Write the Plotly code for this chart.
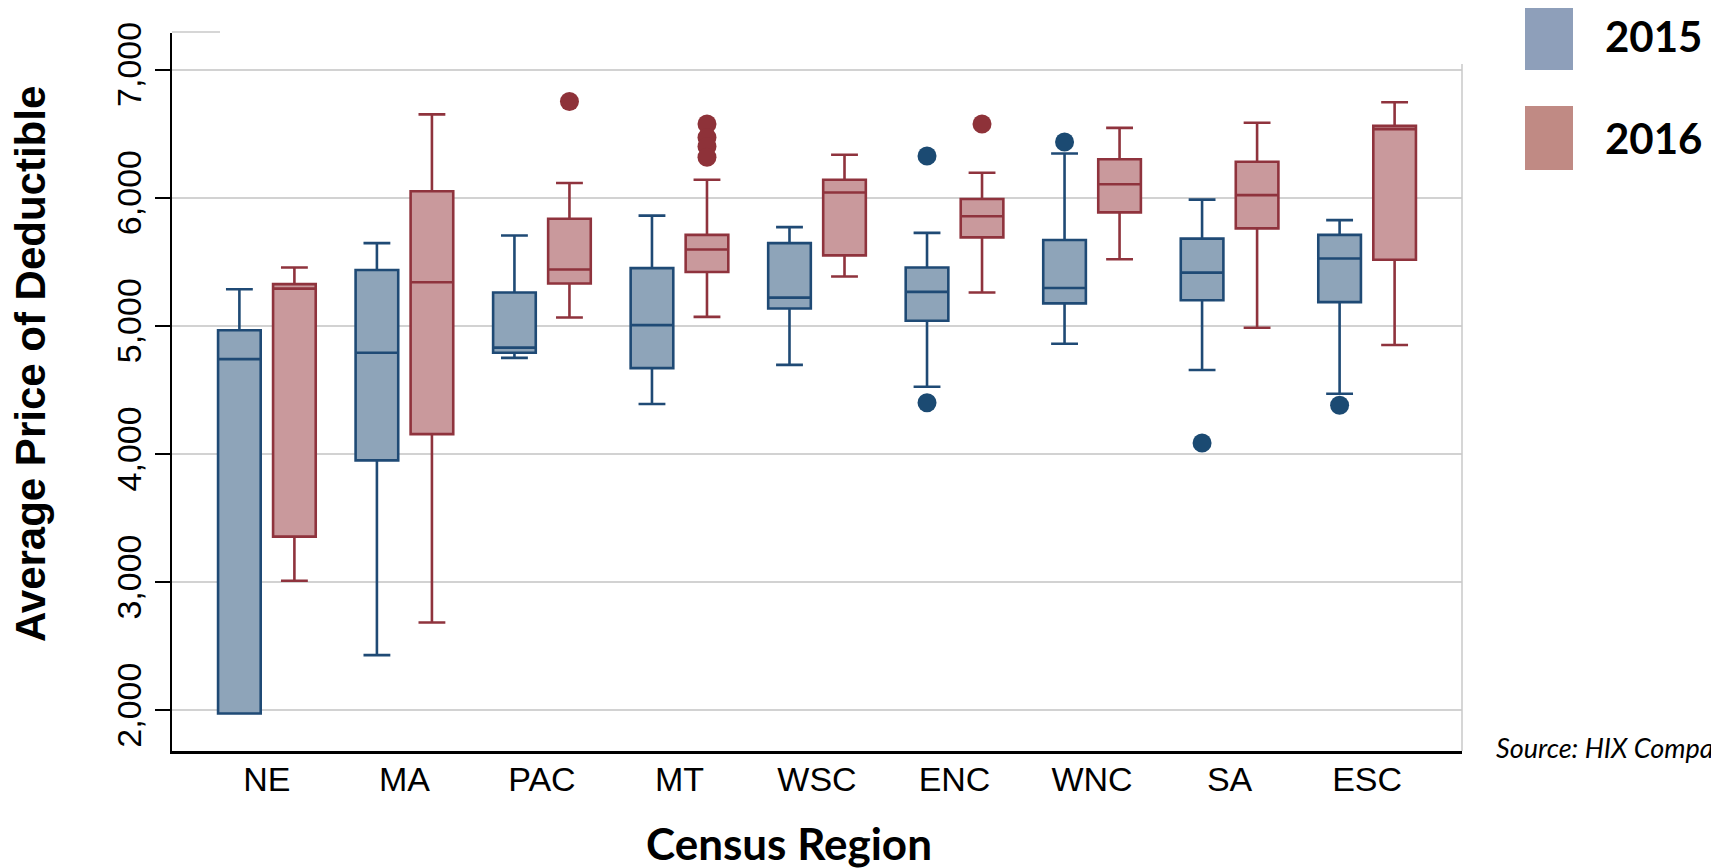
import plotly.graph_objects as go

# ---------------- data ----------------
regions = ["NE", "MA", "PAC", "MT", "WSC", "ENC", "WNC", "SA", "ESC"]

low_2015 = [1975, 2430, 4750, 4390, 4695, 4525, 4860, 4655, 4470]
q1_2015 = [1975, 3950, 4790, 4670, 5135, 5040, 5175, 5200, 5185]
med_2015 = [4740, 4790, 4830, 5005, 5220, 5265, 5295, 5415, 5525]
q3_2015 = [4965, 5435, 5260, 5450, 5645, 5455, 5670, 5680, 5710]
high_2015 = [5285, 5645, 5705, 5860, 5770, 5725, 6345, 5985, 5825]
out_x_2015 = ["ENC", "ENC", "WNC", "SA", "ESC"]
out_y_2015 = [6325, 4400, 6435, 4085, 4380]

low_2016 = [3010, 2685, 5065, 5070, 5385, 5260, 5520, 4985, 4850]
q1_2016 = [3355, 4155, 5330, 5420, 5550, 5690, 5885, 5760, 5515]
med_2016 = [5290, 5340, 5440, 5595, 6040, 5855, 6105, 6020, 6535]
q3_2016 = [5325, 6050, 5835, 5710, 6140, 5990, 6300, 6280, 6560]
high_2016 = [5455, 6650, 6115, 6140, 6335, 6195, 6545, 6585, 6745]
out_x_2016 = ["PAC", "MT", "MT", "MT", "MT", "ENC"]
out_y_2016 = [6750, 6575, 6470, 6400, 6315, 6575]

years = ["2015", "2016"]
y_ticks = [2000, 3000, 4000, 5000, 6000, 7000]

# ---------------- styles ----------------
BLUE_LINE, BLUE_FILL, BLUE_DOT, BLUE_LEG = "#1F4A75", "#8EA4B9", "#1B4A72", "#8E9FBA"
RED_LINE, RED_FILL, RED_DOT, RED_LEG = "#8F333D", "#C9999C", "#8E3239", "#C08A84"

PAGE_PAD = 8                      # default body margin of the html page
W, H = 1719 - PAGE_PAD, 868 - PAGE_PAD
PLOT_L, PLOT_R, PLOT_T, PLOT_B = 172, 1462, 33, 751   # plot area in screen pixels
L, T = PLOT_L - PAGE_PAD, PLOT_T - PAGE_PAD
R, B = 1719 - PLOT_R, 868 - PLOT_B
PW, PH = PLOT_R - PLOT_L, PLOT_B - PLOT_T


def px_x(p):
    return (p - PLOT_L) / PW


def px_y(p):
    return (PLOT_B - p) / PH


fig = go.Figure()

for name, lo, q1, md, q3, hi, lc, fc in [
    (years[0], low_2015, q1_2015, med_2015, q3_2015, high_2015, BLUE_LINE, BLUE_FILL),
    (years[1], low_2016, q1_2016, med_2016, q3_2016, high_2016, RED_LINE, RED_FILL),
]:
    fig.add_trace(go.Box(
        name=name, x=regions, q1=q1, median=md, q3=q3,
        lowerfence=lo, upperfence=hi, offsetgroup=name,
        fillcolor=fc, line=dict(color=lc, width=2.6),
        whiskerwidth=0.63, boxpoints=False, showlegend=False,
        hoverinfo="skip",
    ))

for name, ox, oy, dc in [
    (years[0], out_x_2015, out_y_2015, BLUE_DOT),
    (years[1], out_x_2016, out_y_2016, RED_DOT),
]:
    fig.add_trace(go.Scatter(
        name=name, x=ox, y=oy, mode="markers", offsetgroup=name,
        marker=dict(size=19, color=dc), showlegend=False,
    ))

fig.update_layout(
    width=W, height=H,
    margin=dict(l=L, r=R, t=T, b=B),
    paper_bgcolor="white", plot_bgcolor="white",
    boxmode="group", boxgap=0.2, boxgroupgap=0.225,
    scattermode="group", scattergap=0.2,
    xaxis=dict(
        type="category", categoryorder="array", categoryarray=regions,
        range=[-0.69, 8.69],
        showline=True, linecolor="black", linewidth=2.5,
        ticks="", showgrid=False, zeroline=False, ticklabelstandoff=-4,
        tickfont=dict(family="Liberation Sans, Arial", size=34, color="black"),
    ),
    yaxis=dict(
        range=[1682, 7285],
        tickvals=y_ticks, tickformat=",",
        tickangle=-90,
        showline=True, linecolor="black", linewidth=2,
        ticks="outside", ticklen=15, tickwidth=2, tickcolor="black",
        showgrid=True, gridcolor="#D2D2D2", gridwidth=1.6, zeroline=False,
        tickfont=dict(family="Liberation Sans, Arial", size=34, color="black"),
    ),
)

# frame accents
fig.add_shape(type="line", xref="paper", yref="paper",
              x0=1, x1=1, y0=0, y1=px_y(64), line=dict(color="#C8C8C8", width=1.5))
fig.add_shape(type="line", xref="paper", yref="paper",
              x0=0, x1=px_x(220), y0=px_y(32), y1=px_y(32), line=dict(color="#C8C8C8", width=1.5))

# axis titles
fig.add_annotation(text="Average Price of Deductible", xref="paper", yref="paper",
                   x=px_x(30), y=px_y(364), xanchor="center", yanchor="middle",
                   textangle=-90, showarrow=False,
                   font=dict(family="Liberation Sans, Arial", size=42, color="black", weight="bold"))
fig.add_annotation(text="Census Region", xref="paper", yref="paper",
                   x=px_x(789), y=px_y(843), xanchor="center", yanchor="middle",
                   showarrow=False,
                   font=dict(family="Lato", size=44, color="black", weight="bold"))

# legend
for yr, col, top, bot, ty in [(years[0], BLUE_LEG, 6, 70, 36), (years[1], RED_LEG, 106, 170, 138)]:
    fig.add_shape(type="rect", xref="paper", yref="paper",
                  x0=px_x(1525), x1=px_x(1573), y0=px_y(bot), y1=px_y(top),
                  fillcolor=col, line=dict(width=0))
    fig.add_annotation(text=yr, xref="paper", yref="paper",
                       x=px_x(1603), y=px_y(ty), xanchor="left", yanchor="middle",
                       showarrow=False,
                       font=dict(family="Lato", size=42, color="black", weight="bold"))

# source note (cut off by the right edge, as in the reference)
fig.add_annotation(text="<i>Source: HIX Compare</i>", xref="paper", yref="paper",
                   x=px_x(1494), y=px_y(747), xanchor="left", yanchor="middle",
                   showarrow=False,
                   font=dict(family="Lato", size=27, color="black"))

fig.write_html("out.html")
